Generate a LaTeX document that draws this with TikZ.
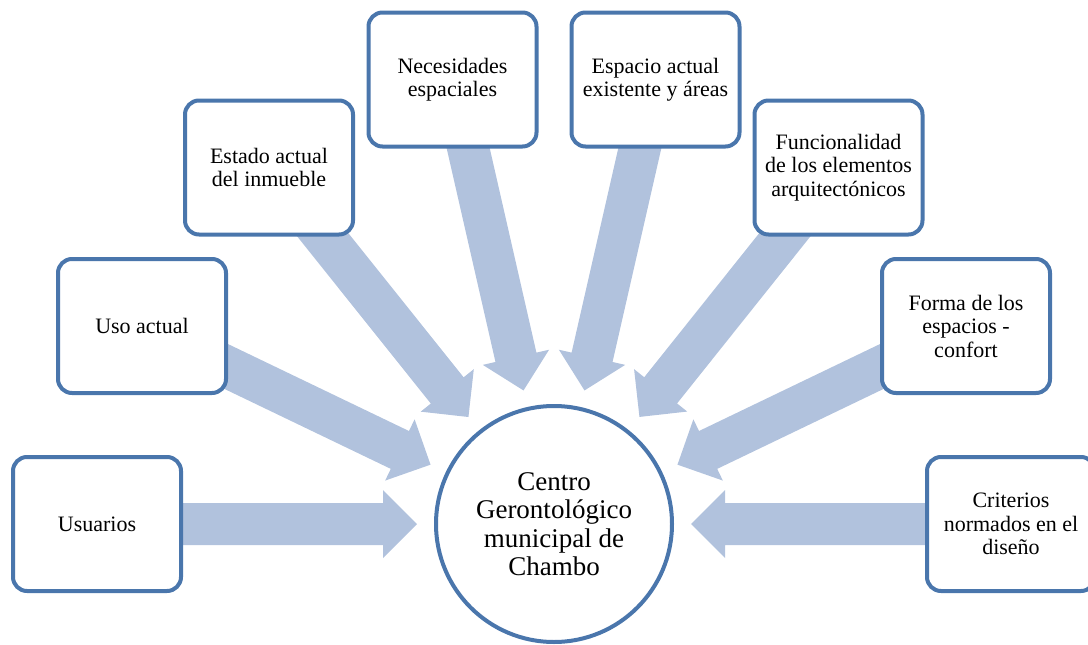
\documentclass[tikz,border=0pt]{standalone}
\usepackage{fontspec}
\setmainfont{Liberation Serif}
\usetikzlibrary{calc}
\pgfdeclarelayer{background}
\pgfsetlayers{background,main}
\definecolor{boxblue}{RGB}{74,118,172}
\definecolor{arrowblue}{RGB}{177,194,221}
\tikzset{
  itembox/.style={draw=boxblue, line width=4pt, fill=white, rounded corners=14pt,
    minimum width=168pt, minimum height=134pt, align=center, inner sep=2pt,
    font=\fontsize{22}{23.5}\selectfont},
  hub/.style={circle, draw=boxblue, line width=4pt, fill=white, minimum size=236pt,
    align=center, inner sep=0pt, font=\fontsize{27}{28.5}\selectfont},
  arrowfill/.style={fill=arrowblue}
}
\newcommand{\convarrow}[2]{%
  \path ($(#2.center)!137pt!(#1.center)$) coordinate (tip)
        ($(#2.center)!171pt!(#1.center)$) coordinate (hb);
  \fill[arrowfill] (tip) -- ($(hb)!34pt!90:(#2.center)$) -- ($(hb)!21pt!90:(#2.center)$)
    -- ($(#1.center)!21pt!90:(#2.center)$) -- ($(#1.center)!21pt!-90:(#2.center)$)
    -- ($(hb)!21pt!-90:(#2.center)$) -- ($(hb)!34pt!-90:(#2.center)$) -- cycle;}
\begin{document}
\begin{tikzpicture}[x=1pt,y=-1pt]
\useasboundingbox (0,0) rectangle (1088,645);
\node[hub] (c) at (554,524) {Centro\\Gerontológico\\municipal de\\Chambo};
\node[itembox] (u)  at (97,524)    {Usuarios};
\node[itembox] (ua) at (142,326)   {Uso actual};
\node[itembox] (e)  at (269,167.5) {Estado actual\\del inmueble};
\node[itembox] (n)  at (452.5,79.5) {Necesidades\\espaciales};
\node[itembox] (es) at (655.5,79.5) {Espacio actual\\existente y áreas};
\node[itembox] (f)  at (838.5,167.5) {Funcionalidad\\de los elementos\\arquitectónicos};
\node[itembox] (fo) at (966,326)   {Forma de los\\espacios -\\confort};
\node[itembox] (cr) at (1011,524)  {Criterios\\normados en el\\diseño};
\begin{pgfonlayer}{background}
\convarrow{u}{c}
\convarrow{ua}{c}
\convarrow{e}{c}
\convarrow{n}{c}
\convarrow{es}{c}
\convarrow{f}{c}
\convarrow{fo}{c}
\convarrow{cr}{c}
\end{pgfonlayer}
\end{tikzpicture}
\end{document}
